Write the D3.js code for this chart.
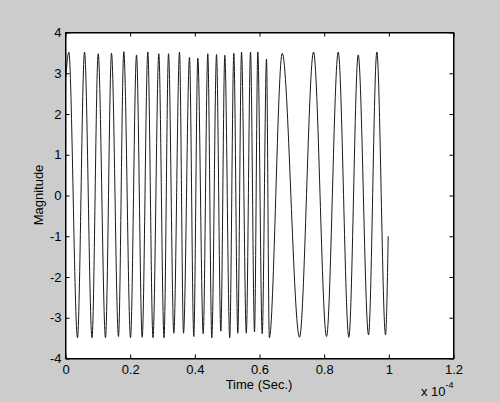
<!DOCTYPE html>
<html>
<head>
<meta charset="utf-8">
<script src="https://cdn.jsdelivr.net/npm/d3@7"></script>
<style>
  body { margin: 0; background: #cccccc; }
  svg { display: block; }
  text { font-family: "Liberation Sans", Arial, sans-serif; fill: #000; }
</style>
</head>
<body>
<div id="chart"></div>
<script>
// extrema of the signal (time in units of 1e-4 s)
var timeVals = [
  0.001, 0.0102, 0.0371, 0.0588, 0.0820, 0.1011, 0.1237, 0.1423, 0.1639, 0.1803,
  0.2011, 0.2196, 0.2372, 0.2546, 0.2706, 0.2886, 0.3047, 0.3186, 0.3350, 0.3526,
  0.3650, 0.3835, 0.3968, 0.4092, 0.4259, 0.4401, 0.4525, 0.4671, 0.4804, 0.4927,
  0.5079, 0.5206, 0.5329, 0.5444, 0.5592, 0.5722, 0.5846, 0.5948, 0.6084, 0.6217,
  0.6304, 0.6703, 0.7238, 0.7671, 0.8073, 0.8435, 0.8763, 0.9053, 0.9372, 0.9629,
  0.9898, 0.998
];
var magVals = [
  2.9, 3.52, -3.49, 3.52, -3.49, 3.48, -3.49, 3.49, -3.46, 3.53,
  -3.49, 3.45, -3.48, 3.52, -3.49, 3.48, -3.49, 3.48, -3.38, 3.52,
  -3.38, 3.39, -3.46, 3.37, -3.39, 3.48, -3.49, 3.46, -3.33, 3.44,
  -3.49, 3.49, -3.38, 3.52, -3.38, 3.52, -3.35, 3.52, -3.39, 3.35,
  -3.49, 3.49, -3.48, 3.52, -3.46, 3.52, -3.48, 3.45, -3.42, 3.52,
  -3.42, -1.0
];
var xTicks = [0, 0.2, 0.4, 0.6, 0.8, 1, 1.2];
var yTicks = [-4, -3, -2, -1, 0, 1, 2, 3, 4];

var data = timeVals.map(function(t, i) { return {t: t, v: magVals[i]}; });

var W = 500, H = 402;
var margin = {top: 32, right: 47, bottom: 44, left: 65},
    width = W - margin.left - margin.right,
    height = H - margin.top - margin.bottom;

var svg = d3.select("#chart").append("svg")
    .attr("width", W)
    .attr("height", H);

svg.append("rect")
    .attr("width", W).attr("height", H)
    .style("fill", "#cccccc");

var g = svg.append("g")
    .attr("transform", "translate(" + (margin.left + 0.5) + "," + (margin.top + 0.5) + ")");

var x = d3.scaleLinear().domain([0, 1.2]).range([0, width]);
var y = d3.scaleLinear().domain([-4, 4]).range([height, 0]);

// axes area
g.append("rect")
    .attr("width", width)
    .attr("height", height)
    .style("fill", "#ffffff");

// signal
var line = d3.line()
    .x(function(d) { return x(d.t); })
    .y(function(d) { return y(d.v); })
    .curve(d3.curveMonotoneX);

g.append("path")
    .datum(data)
    .attr("fill", "none")
    .attr("stroke", "#1a1a1a")
    .attr("stroke-width", 1)
    .attr("d", line);

var fmt = function(d) { return String(+d.toFixed(1)); };

// Add the axes, matlab style ticks pointing inward
g.append("g")
    .attr("class", "axis")
    .attr("transform", "translate(0," + height + ")")
    .call(d3.axisBottom(x).tickValues(xTicks).tickFormat(fmt)
      .tickSizeInner(-4).tickSizeOuter(0).tickPadding(6));

g.append("g")
    .attr("class", "axis")
    .call(d3.axisTop(x).tickValues(xTicks).tickFormat("")
      .tickSizeInner(-4).tickSizeOuter(0));

g.append("g")
    .attr("class", "axis")
    .call(d3.axisLeft(y).tickValues(yTicks).tickFormat(fmt)
      .tickSizeInner(-4).tickSizeOuter(0).tickPadding(4));

g.append("g")
    .attr("class", "axis")
    .attr("transform", "translate(" + width + ",0)")
    .call(d3.axisRight(y).tickValues(yTicks).tickFormat("")
      .tickSizeInner(-4).tickSizeOuter(0));

g.selectAll(".axis text")
    .style("font-size", "13px")
    .style("font-family", "'Liberation Sans', Arial, sans-serif")
    .attr("fill", "#000");
g.selectAll(".axis line").attr("stroke", "#000");
g.selectAll(".axis path").attr("stroke", "#000");

// box
g.append("rect")
    .attr("width", width)
    .attr("height", height)
    .style("fill", "none")
    .style("stroke", "#000")
    .attr("stroke-width", 1);

// labels
svg.append("text")
    .attr("x", margin.left + width / 2)
    .attr("y", 389)
    .style("text-anchor", "middle")
    .style("font-size", "13px")
    .text("Time (Sec.)");

svg.append("text")
    .attr("transform", "translate(43," + (margin.top + height / 2) + ") rotate(-90)")
    .style("text-anchor", "middle")
    .style("font-size", "13px")
    .text("Magnitude");

var mult = svg.append("text")
    .attr("x", 421)
    .attr("y", 396)
    .style("font-size", "13px");
mult.append("tspan").text("x 10");
mult.append("tspan")
    .attr("dy", "-8")
    .style("font-size", "9px")
    .text("-4");
</script>
</body>
</html>
